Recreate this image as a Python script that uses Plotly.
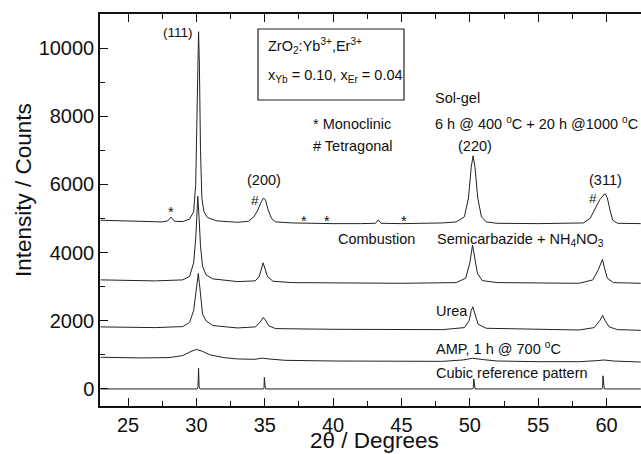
import plotly.graph_objects as go

# ---------------- data ----------------
solgel_x = [23.0, 25.0, 27.5, 27.9, 28.15, 28.4, 29.0, 29.5, 29.8, 29.95, 30.05, 30.12, 30.16,
            30.22, 30.3, 30.4, 30.55, 30.8, 31.5, 33.0, 33.8, 34.2, 34.5, 34.7, 34.9, 35.05,
            35.25, 35.5, 35.8, 37.0, 38.0, 40.0, 42.0, 43.1, 43.3, 43.5, 45.0, 46.5, 47.2,
            48.0, 49.0, 49.6, 49.9, 50.1, 50.24, 50.38, 50.58, 50.85, 51.2, 52.0, 55.0, 57.0,
            58.3, 58.8, 59.2, 59.5, 59.87, 60.05, 60.25, 60.45, 60.8, 62.5]
solgel_y = [4950, 4930, 4900, 4930, 5040, 4920, 4910, 4980, 5200, 6000, 8000, 10000, 10480,
            9500, 7000, 5600, 5200, 5030, 4930, 4890, 4920, 5050, 5250, 5450, 5600, 5550,
            5250, 5000, 4900, 4870, 4860, 4850, 4850, 4860, 4960, 4860, 4850, 4860, 4880,
            4870, 4900, 5050, 5600, 6500, 6840, 6500, 5600, 5050, 4900, 4860, 4850, 4850,
            4870, 5000, 5300, 5550, 5730, 5620, 5250, 4950, 4860, 4850]

semi_x = [23.0, 27.0, 29.0, 29.5, 29.8, 29.95, 30.05, 30.1, 30.2, 30.3, 30.45, 30.7, 31.2,
          33.0, 34.3, 34.6, 34.88, 35.0, 35.2, 35.6, 37.0, 45.0, 49.0, 49.7, 50.0, 50.2,
          50.35, 50.55, 50.9, 52.0, 58.0, 59.0, 59.4, 59.7, 59.85, 60.05, 60.5, 62.5]
semi_y = [3200, 3170, 3200, 3300, 3700, 4400, 5200, 5650, 5000, 4200, 3600, 3350, 3230,
          3150, 3170, 3300, 3700, 3550, 3300, 3160, 3120, 3100, 3120, 3250, 3700, 4220,
          3900, 3400, 3180, 3120, 3100, 3200, 3500, 3800, 3550, 3250, 3120, 3100]

urea_x = [23.0, 27.0, 29.0, 29.5, 29.8, 29.95, 30.05, 30.14, 30.22, 30.32, 30.45, 30.7, 31.2,
          33.0, 34.3, 34.65, 34.9, 35.05, 35.3, 35.8, 40.0, 48.0, 49.6, 49.95, 50.1, 50.22,
          50.37, 50.6, 51.2, 58.0, 59.1, 59.5, 59.72, 59.9, 60.2, 60.8, 62.5]
urea_y = [1820, 1800, 1830, 1950, 2300, 2800, 3200, 3390, 3100, 2600, 2200, 2000, 1860,
          1790, 1820, 1950, 2100, 2020, 1850, 1770, 1750, 1740, 1800, 2000, 2300, 2410,
          2200, 1900, 1780, 1730, 1800, 2000, 2160, 2000, 1820, 1740, 1720]

amp_x = [23.0, 26.0, 28.0, 29.0, 29.6, 30.0, 30.4, 31.0, 32.0, 33.0, 34.3, 34.8, 35.3, 36.5,
         40.0, 45.0, 48.0, 49.5, 50.2, 51.0, 52.0, 55.0, 58.0, 59.3, 59.8, 60.5, 62.5]
amp_y = [930, 910, 920, 980, 1100, 1160, 1110, 1000, 920, 880, 870, 905, 880, 840,
         820, 810, 810, 850, 900, 860, 820, 800, 800, 830, 850, 820, 790]

cubic_x = [23.0, 30.05, 30.12, 30.16, 30.2, 30.27, 34.9, 34.95, 34.97, 35.0, 35.05, 50.2,
           50.25, 50.29, 50.33, 50.38, 59.66, 59.71, 59.74, 59.78, 59.83, 62.5]
cubic_y = [0, 0, 60, 610, 60, 0, 0, 40, 340, 40, 0, 0, 35, 293, 35, 0, 0, 45, 385, 45, 0, 0]

x_tick_vals = [25, 30, 35, 40, 45, 50, 55, 60]
x_tick_text = ["25", "30", "35", "40", "45", "50", "55", "60"]
y_tick_vals = [0, 2000, 4000, 6000, 8000, 10000]
y_tick_text = ["0", "2000", "4000", "6000", "8000", "10000"]

LINE = dict(color="#222222", width=1)
FONT = "Arial"

fig = go.Figure()
for xs, ys, nm in [(cubic_x, cubic_y, "Cubic reference"), (amp_x, amp_y, "AMP"),
                   (urea_x, urea_y, "Urea"), (semi_x, semi_y, "Semicarbazide"),
                   (solgel_x, solgel_y, "Sol-gel")]:
    fig.add_trace(go.Scatter(x=xs, y=ys, mode="lines", line=LINE, name=nm,
                             showlegend=False, hoverinfo="skip"))

# plot area in pixels: left 100, right 641, top 14, bottom 406
L, R, T, B = 100, 641, 14, 406


def px(xp):
    return (xp - L) / (R - L)


def py(yp):
    return (B - yp) / (B - T)


annos = []


def txt(text, xp, yp, anchor="left", size=14.5, angle=0):
    annos.append(dict(text=text, x=px(xp), y=py(yp), xref="paper", yref="paper",
                      xanchor=anchor, yanchor="middle", showarrow=False, textangle=angle,
                      font=dict(family=FONT, size=size, color="#111111")))


txt("(111)", 178, 32, "center", 13.5)
txt("(200)", 264, 180, "center")
txt("#", 255, 200, "center", 13.5)
txt("(220)", 475, 146, "center")
txt("(311)", 605, 180, "center")
txt("#", 593, 198, "center", 13.5)
txt("*", 171, 212, "center")
txt("*", 304, 221, "center")
txt("*", 327, 221, "center")
txt("*", 404, 221, "center")
txt("ZrO<sub>2</sub>:Yb<sup>3+</sup>,Er<sup>3+</sup>", 266, 46, "left")
txt("x<sub>Yb</sub> = 0.10, x<sub>Er</sub> = 0.04", 266, 76, "left")
txt("Sol-gel", 433, 98, "left")
txt("6 h @ 400 <sup>o</sup>C + 20 h @1000 <sup>o</sup>C", 433, 123, "left")
txt("* Monoclinic", 311, 124, "left")
txt("# Tetragonal", 311, 146, "left")
txt("Combustion", 376, 239, "center")
txt("Semicarbazide + NH<sub>4</sub>NO<sub>3</sub>", 435, 240, "left")
txt("Urea", 434, 311, "left")
txt("AMP, 1 h @ 700 <sup>o</sup>C", 434, 348, "left")
txt("Cubic reference pattern", 434, 373, "left")
# axis titles
txt("2θ / Degrees", 374, 441, "center", 22.5)
txt("Intensity / Counts", 23, 190, "center", 22.5, -90)

fig.add_shape(type="rect", xref="paper", yref="paper",
              x0=px(258), x1=px(404), y0=py(100), y1=py(29),
              line=dict(color="#222222", width=1.2), fillcolor="rgba(0,0,0,0)")

fig.update_layout(
    width=641, height=454, autosize=False,
    margin=dict(l=L, r=641 - R, t=T, b=454 - B, pad=0, autoexpand=False),
    paper_bgcolor="white", plot_bgcolor="white",
    font=dict(family=FONT, color="#111111"),
    annotations=annos,
    showlegend=False,
)
fig.update_xaxes(
    range=[22.95, 62.52], tickvals=x_tick_vals, ticktext=x_tick_text,
    ticks="inside", ticklen=8, tickwidth=1.3,
    tickcolor="#111111", showline=True, linecolor="#111111", linewidth=1.5,
    mirror="allticks", showgrid=False, zeroline=False, automargin=False,
    minor=dict(ticks="inside", ticklen=5, tickwidth=1.2, tickcolor="#111111", dtick=2.5,
               tick0=22.5, showgrid=False),
    tickfont=dict(family=FONT, size=20, color="#111111"),
)
fig.update_yaxes(
    range=[-500, 11000], tickvals=y_tick_vals, ticktext=y_tick_text,
    ticks="inside", ticklen=8, tickwidth=1.3,
    tickcolor="#111111", showline=True, linecolor="#111111", linewidth=1.5,
    mirror=False, showgrid=False, zeroline=False, automargin=False,
    minor=dict(ticks="inside", ticklen=5, tickwidth=1.2, tickcolor="#111111", dtick=1000,
               tick0=0, showgrid=False),
    tickfont=dict(family=FONT, size=20, color="#111111"),
)

fig.write_html(
    "out.html",
    config={"displayModeBar": False},
    post_script="document.body.style.margin='0';document.body.style.overflow='hidden';",
)
